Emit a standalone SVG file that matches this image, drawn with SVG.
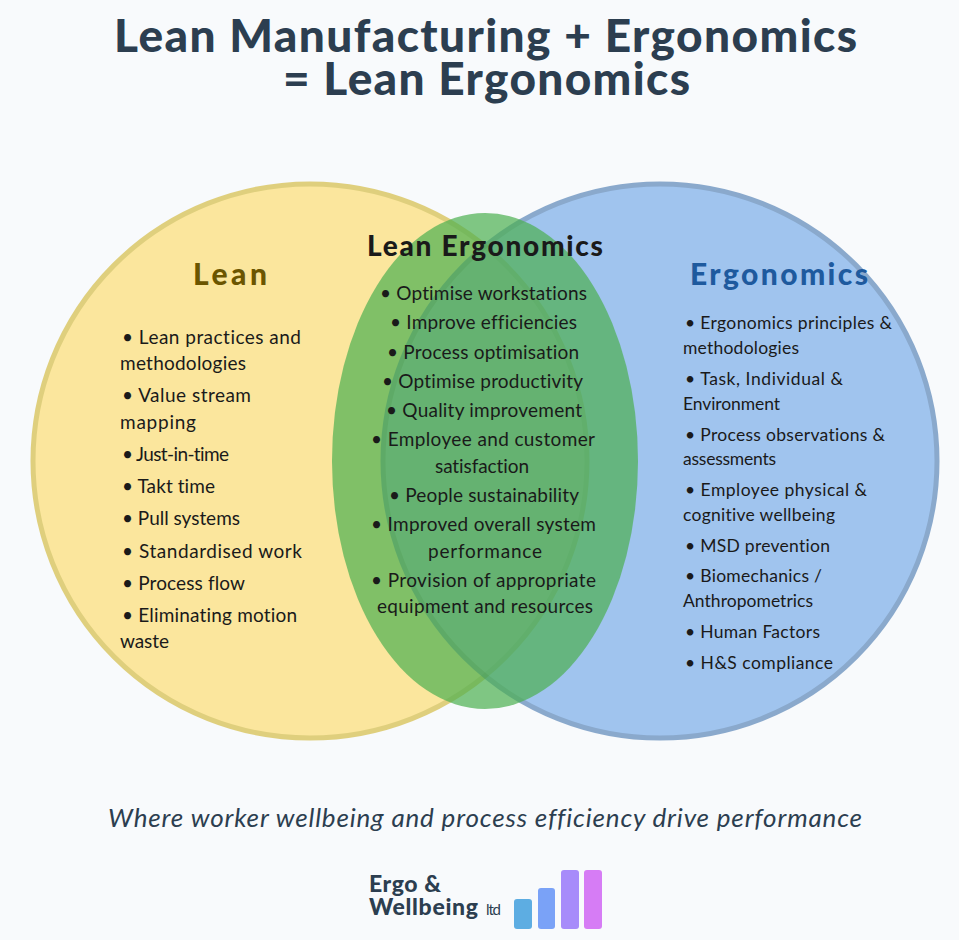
<svg xmlns="http://www.w3.org/2000/svg" width="959" height="940" viewBox="0 0 959 940">
<style>
text{font-family:"Lato","Liberation Sans",sans-serif;fill:#1a1a1a;font-variant-ligatures:none}
.title{font-size:46px;font-weight:900;fill:#2c3e50}
.head{font-size:30px;font-weight:900}
.l{font-size:19px}
.c{font-size:19px}
.r{font-size:17.5px}
.tag{font-size:26px;font-style:italic;fill:#2c3e50}
.logo{font-size:23px;font-weight:900;fill:#2c3e50}
</style>
<rect width="959" height="940" fill="#f8fafc"/>
<g id="title">
<text class="title" x="114" y="52" textLength="743">Lean Manufacturing + Ergonomics</text>
<text class="title" x="283" y="95" textLength="407">= Lean Ergonomics</text>
</g>
<g id="lean">
<circle cx="310" cy="461" r="277" fill="#ffd340" stroke="#c8a600" stroke-width="5" opacity="0.5"/>
<text class="head" x="193" y="285" textLength="74" style="fill:#6b5500">Lean</text>
<text class="l" x="122" y="344" textLength="179">• Lean practices and</text>
<text class="l" x="120" y="370" textLength="126">methodologies</text>
<text class="l" x="122" y="402" textLength="129">• Value stream</text>
<text class="l" x="120" y="429" textLength="76">mapping</text>
<text class="l" x="122" y="461" textLength="107">• Just-in-time</text>
<text class="l" x="122" y="493" textLength="93">• Takt time</text>
<text class="l" x="122" y="525" textLength="118">• Pull systems</text>
<text class="l" x="122" y="558" textLength="180">• Standardised work</text>
<text class="l" x="122" y="590" textLength="123">• Process flow</text>
<text class="l" x="122" y="622" textLength="175">• Eliminating motion</text>
<text class="l" x="120" y="648" textLength="49">waste</text>
</g>
<g id="ergonomics">
<circle cx="660" cy="461" r="277" fill="#4a90e2" stroke="#1e5a9e" stroke-width="5" opacity="0.5"/>
<text class="head" x="690" y="285" textLength="178" style="fill:#1e5a9e">Ergonomics</text>
<text class="r" x="685" y="329" textLength="207">• Ergonomics principles &amp;</text>
<text class="r" x="683" y="354" textLength="116">methodologies</text>
<text class="r" x="685" y="385" textLength="158">• Task, Individual &amp;</text>
<text class="r" x="683" y="410" textLength="97">Environment</text>
<text class="r" x="685" y="441" textLength="200">• Process observations &amp;</text>
<text class="r" x="683" y="465" textLength="93">assessments</text>
<text class="r" x="685" y="496" textLength="182">• Employee physical &amp;</text>
<text class="r" x="683" y="521" textLength="152">cognitive wellbeing</text>
<text class="r" x="685" y="552" textLength="145">• MSD prevention</text>
<text class="r" x="685" y="582" textLength="137">• Biomechanics /</text>
<text class="r" x="683" y="607" textLength="130">Anthropometrics</text>
<text class="r" x="685" y="638" textLength="135">• Human Factors</text>
<text class="r" x="685" y="669" textLength="148">• H&amp;S compliance</text>
</g>
<g id="lean-ergonomics">
<ellipse cx="485" cy="461" rx="153" ry="248" fill="#4caf50" opacity="0.7"/>
<text x="367" y="256" font-size="28" font-weight="900" textLength="236">Lean Ergonomics</text>
<text class="c" x="380" y="300" textLength="207">• Optimise workstations</text>
<text class="c" x="390" y="329" textLength="187">• Improve efficiencies</text>
<text class="c" x="387" y="359" textLength="192">• Process optimisation</text>
<text class="c" x="382" y="388" textLength="201">• Optimise productivity</text>
<text class="c" x="386" y="417" textLength="196">• Quality improvement</text>
<text class="c" x="371" y="446" textLength="224">• Employee and customer</text>
<text class="c" x="435" y="473" textLength="94">satisfaction</text>
<text class="c" x="389" y="502" textLength="190">• People sustainability</text>
<text class="c" x="371" y="531" textLength="225">• Improved overall system</text>
<text class="c" x="428" y="558" textLength="114">performance</text>
<text class="c" x="371" y="587" textLength="225">• Provision of appropriate</text>
<text class="c" x="377" y="613" textLength="216">equipment and resources</text>
</g>
<text class="tag" x="108" y="827" textLength="754">Where worker wellbeing and process efficiency drive performance</text>
<g id="logo">
<text class="logo" x="369" y="892" textLength="72">Ergo &amp;</text>
<text class="logo" x="369" y="915" textLength="109">Wellbeing</text>
<text x="486" y="915" font-size="15" textLength="15" style="fill:#2c3e50">ltd</text>
<rect x="514" y="899" width="18" height="30" rx="3" fill="#5dade2"/>
<rect x="538" y="888" width="17" height="41" rx="3" fill="#7aa2f7"/>
<rect x="561" y="870" width="18" height="59" rx="3" fill="#a78bfa"/>
<rect x="584" y="870" width="18" height="59" rx="3" fill="#d67cf5"/>
</g>
</svg>
